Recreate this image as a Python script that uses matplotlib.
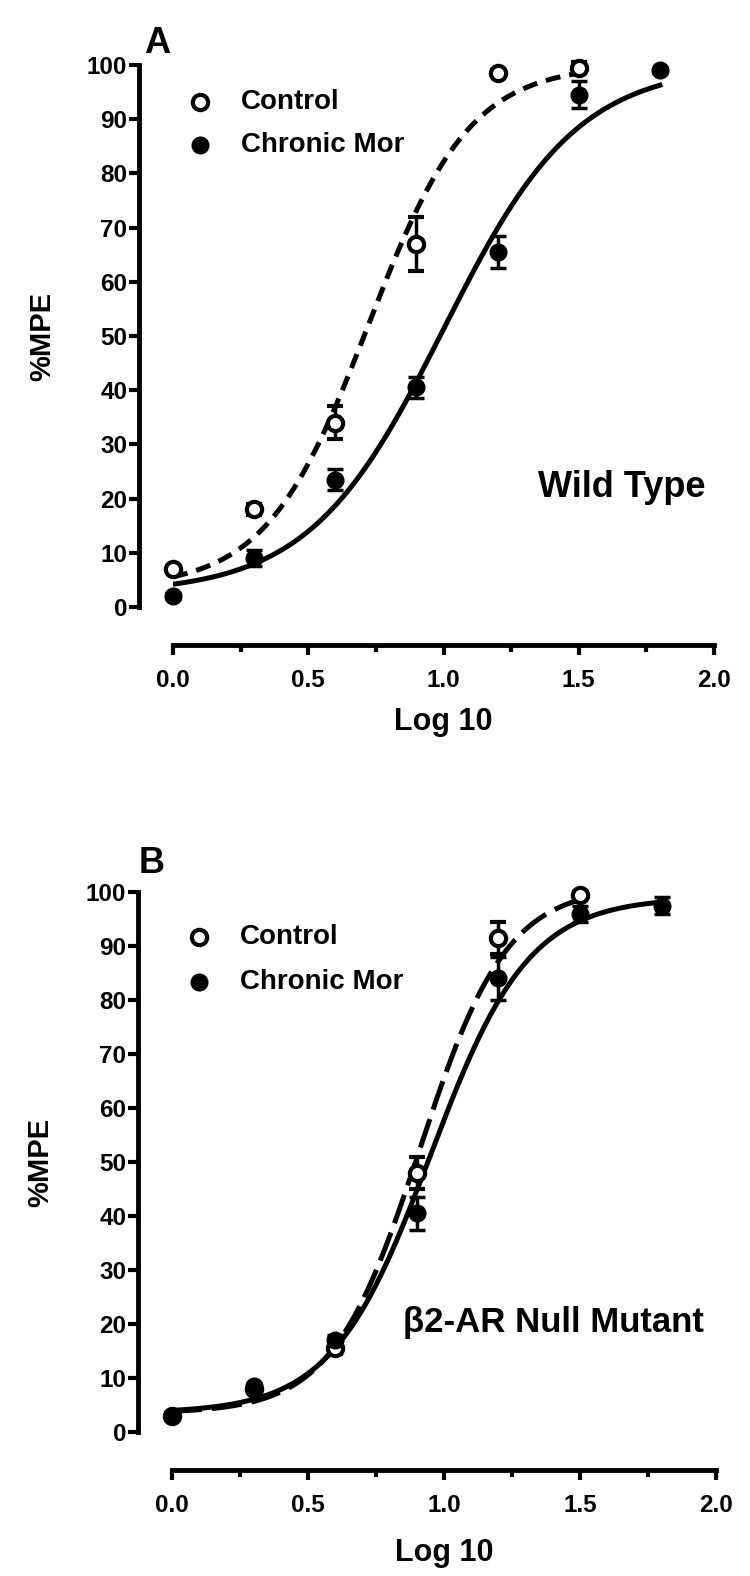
import numpy as np
import matplotlib
matplotlib.use('Agg')
import matplotlib.pyplot as plt

plt.rcParams['font.family'] = ['Liberation Sans', 'DejaVu Sans']
plt.rcParams['font.weight'] = 'bold'

# log10 dose
dose = [0.0, 0.3, 0.6, 0.9, 1.2, 1.5, 1.8]

# panel A - wild type
a_ctrl = [7, 18, 34, 67, 98.5, 99.5]
a_ctrl_err = [0.5, 1, 3, 5, 0.5, 1]
a_mor = [2, 9, 23.5, 40.5, 65.5, 94.5, 99]
a_mor_err = [0.5, 1.5, 2, 2, 3, 2.5, 0.5]

# panel B - beta2-AR null mutant
b_ctrl = [3, 8, 15.5, 48, 91.5, 99.5]
b_ctrl_err = [0.5, 0.5, 1, 3, 3, 0.5]
b_mor = [3, 8.5, 17, 40.5, 84, 96, 97.5]
b_mor_err = [0.5, 0.5, 1, 3, 4, 1.5, 1.5]

# fitted sigmoid parameters: bottom, top, logEC50, hill
a_ctrl_fit = (3.5, 100, 0.72, 2.3)
a_mor_fit = (2.5, 100, 1.0, 1.75)
b_ctrl_fit = (3.5, 101, 0.91, 2.7)
b_mor_fit = (3.5, 99, 0.95, 2.4)


def sigmoid(x, p):
    bottom, top, ec50, hill = p
    return bottom + (top - bottom) / (1 + 10 ** ((ec50 - x) * hill))


fig = plt.figure(figsize=(7.5, 15.76), dpi=100)
axA = fig.add_axes([173 / 750, 1 - 607 / 1576, 541 / 750, 542 / 1576])
axB = fig.add_axes([172 / 750, 1 - 1432 / 1576, 544 / 750, 540 / 1576])


def draw(ax, ctrl, ctrl_err, mor, mor_err, fit_c, fit_m, dash, label, lab_xy, lab_size,
         letter, letter_xy, leg_y, xlab_y):
    xc = dose[:len(ctrl)]
    xm = dose[:len(mor)]
    xx = np.linspace(0, 1.5, 200)
    ax.plot(xx, sigmoid(xx, fit_c), color='black', lw=3.6, ls=dash, zorder=2)
    xx = np.linspace(0, 1.8, 200)
    ax.plot(xx, sigmoid(xx, fit_m), color='black', lw=3.6, zorder=2)
    ax.errorbar(xc, ctrl, yerr=ctrl_err, fmt='o', color='black', mfc='white', mec='black',
                mew=3, ms=11, elinewidth=2.5, capsize=5.5, capthick=2.5, zorder=3, clip_on=False)
    ax.errorbar(xm, mor, yerr=mor_err, fmt='o', color='black', ms=12,
                elinewidth=2.5, capsize=5.5, capthick=2.5, zorder=4, clip_on=False)

    ax.set_xlim(0, 2)
    ax.set_ylim(0, 100)
    ax.spines['top'].set_visible(False)
    ax.spines['right'].set_visible(False)
    ax.spines['left'].set_position(('outward', 24.5))
    ax.spines['bottom'].set_position(('outward', 27.5))
    ax.spines['left'].set_linewidth(3.5)
    ax.spines['bottom'].set_linewidth(3.5)
    ax.set_yticks(np.arange(0, 101, 10))
    ax.set_xticks([0, 0.5, 1.0, 1.5, 2.0])
    ax.set_xticks([0.25, 0.75, 1.25, 1.75], minor=True)
    ax.set_xticklabels(['0.0', '0.5', '1.0', '1.5', '2.0'])
    ax.tick_params(axis='y', length=7, width=3, pad=1.5, labelsize=17.5)
    ax.tick_params(axis='x', which='major', length=7, width=3, pad=10, labelsize=17.5)
    ax.tick_params(axis='x', which='minor', length=5, width=3)
    for t in ax.get_xticklabels() + ax.get_yticklabels():
        t.set_fontweight('bold')

    ax.set_ylabel('%MPE', fontsize=21, fontweight='bold', va='center')
    ax.yaxis.set_label_coords(-0.242, 0.5)
    ax.set_xlabel('Log 10', fontsize=22, fontweight='bold')
    ax.xaxis.set_label_coords(0.5, xlab_y)
    ax.xaxis.label.set_va('center')

    # legend drawn by hand to mimic the GraphPad look
    ax.plot([0.10], [leg_y[0]], 'o', color='black', mfc='white', mew=3, ms=11, clip_on=False)
    ax.plot([0.10], [leg_y[1]], 'o', color='black', ms=12, clip_on=False)
    ax.text(0.25, leg_y[0], 'Control', fontsize=20, fontweight='bold', va='center')
    ax.text(0.25, leg_y[1], 'Chronic Mor', fontsize=20, fontweight='bold', va='center')

    ax.text(lab_xy[0], lab_xy[1], label, fontsize=lab_size, fontweight='bold', va='baseline')
    ax.text(letter_xy[0], letter_xy[1], letter, transform=ax.transAxes, fontsize=26,
            fontweight='bold', ha='left', va='baseline')


draw(axA, a_ctrl, a_ctrl_err, a_mor, a_mor_err, a_ctrl_fit, a_mor_fit,
     (0, (3, 1.8)), 'Wild Type', (1.35, 20.3), 26, 'A', (-0.054, 1.022),
     (93.2, 85.2), -0.212)
draw(axB, b_ctrl, b_ctrl_err, b_mor, b_mor_err, b_ctrl_fit, b_mor_fit,
     (0, (6, 2)), 'β2-AR Null Mutant', (0.85, 18.5), 25, 'B', (-0.061, 1.035),
     (91.7, 83.3), -0.225)

fig.savefig('out.png', dpi=100)
